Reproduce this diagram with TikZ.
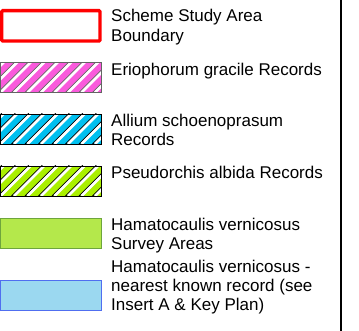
\documentclass[tikz,border=0pt]{standalone}
\usepackage{fontspec}
\setmainfont{Liberation Sans}
\usetikzlibrary{positioning}
\definecolor{bndred}{RGB}{255,0,0}
\definecolor{eripink}{RGB}{250,90,220}
\definecolor{erigray}{RGB}{100,100,100}
\definecolor{allblue}{RGB}{0,192,240}
\definecolor{pselime}{RGB}{170,240,0}
\definecolor{surgreen}{RGB}{180,232,75}
\definecolor{suredge}{RGB}{110,165,60}
\definecolor{nearblue}{RGB}{155,216,240}
\definecolor{nearedge}{RGB}{80,110,240}

\begin{document}
\begin{tikzpicture}[
  x=1pt, y=-1pt,
  keybox/.style={draw, minimum width=100.7pt, minimum height=30pt,
    inner sep=0pt, outer sep=0pt},
  hatch/.style={path picture={
    \foreach \k in {-3,...,8}
      {\draw[#1, line width=1pt] ([xshift=\k*13.5pt-2.4pt]path picture bounding box.south west) -- ++(40pt,40pt);
       \draw[white, line width=2.6pt] ([xshift=\k*13.5pt]path picture bounding box.south west) -- ++(40pt,40pt);}
  }},
  lbl/.style={align=left, inner sep=0pt, font=\fontsize{17}{19.3}\selectfont},
  frame/.style={line width=2pt}
]
\useasboundingbox (0,0) rectangle (359,331);

% key boxes
\node[keybox, draw=bndred, line width=3.3pt, minimum width=98.3pt,
  minimum height=30.4pt, rounded corners=1pt] (bound) at (50.85,25.85) {};
\node[keybox, fill=eripink, draw=erigray, hatch=erigray] (erio) at (50.85,77.5) {};
\node[keybox, fill=allblue, hatch=black] (allium) at (50.85,129) {};
\node[keybox, fill=pselime, hatch=black] (pseudo) at (50.85,181) {};
\node[keybox, fill=surgreen, draw=suredge] (survey) at (50.85,233) {};
\node[keybox, fill=nearblue, draw=nearedge] (nearest) at (50.85,295.3) {};

% labels
\node[lbl, right=11pt of bound.north east, anchor=north west, yshift=1.4pt] (boundtxt)
  {Scheme Study Area\\Boundary};
\node[lbl, right=9.8pt of erio.north east, anchor=north west] (eriotxt)
  {Eriophorum gracile Records};
\node[lbl, right=9.8pt of allium.north east, anchor=north west] (alliumtxt)
  {Allium schoenoprasum\\Records};
\node[lbl, right=9.8pt of pseudo.north east, anchor=north west] (pseudotxt)
  {Pseudorchis albida Records};
\node[lbl, right=9.8pt of survey.north east, anchor=north west] (surveytxt)
  {Hamatocaulis vernicosus\\Survey Areas};
\node[lbl, right=9.8pt of nearest.north east, anchor=north west, yshift=20.7pt] (nearesttxt)
  {Hamatocaulis vernicosus -\\nearest known record (see\\Insert A \& Key Plan)};

% frame edge
\coordinate (rtop) at (340.7,0);
\coordinate (rbot) at (340.7,331);
\draw[frame] (rtop) -- (rbot);
\end{tikzpicture}
\end{document}
